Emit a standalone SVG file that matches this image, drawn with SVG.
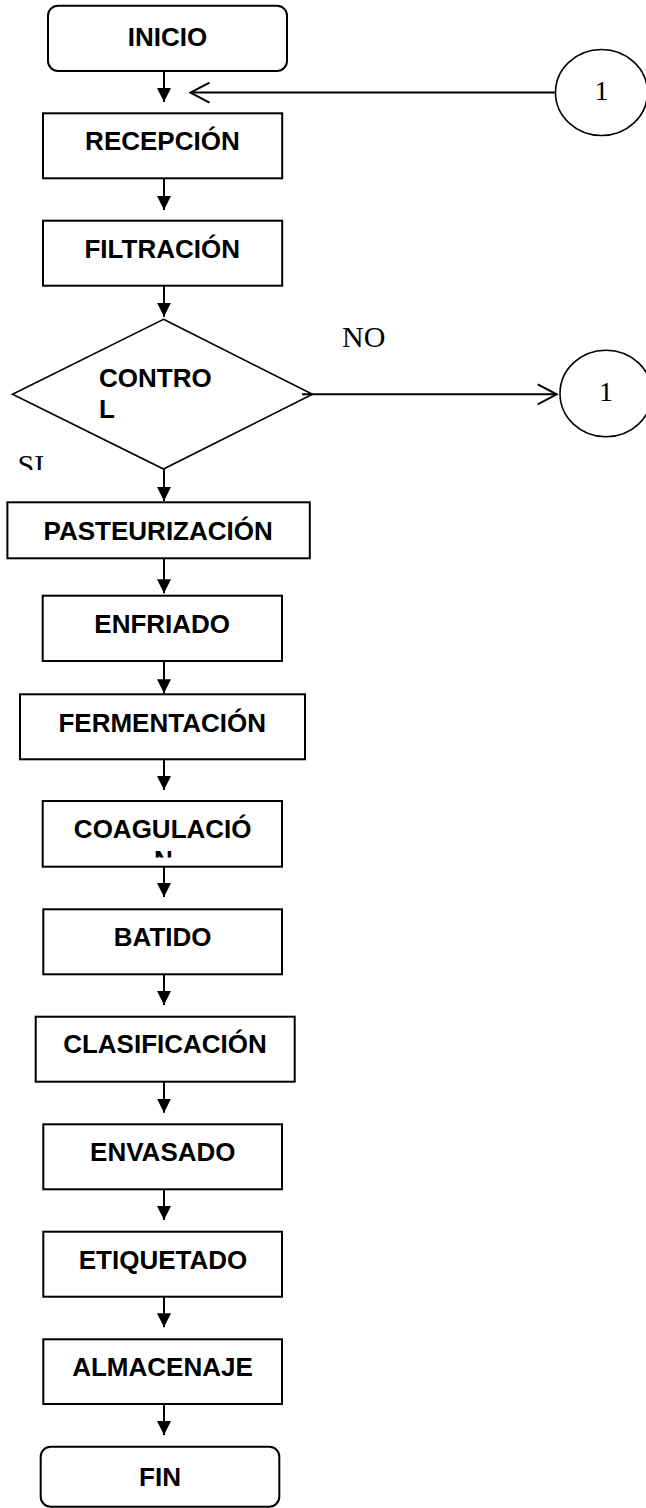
<svg xmlns="http://www.w3.org/2000/svg" width="646" height="1508" viewBox="0 0 646 1508">
<style>
.box{fill:#fff;stroke:#000;stroke-width:2}
.dia{fill:#fff;stroke:#000;stroke-width:1.6}
.circ{fill:#fff;stroke:#000;stroke-width:1.6}
.lbl{font-family:"Liberation Sans",Arial,sans-serif;font-weight:bold;font-size:26px;fill:#000}
.ser{font-family:"Liberation Serif","Times New Roman",serif;font-size:30px;fill:#000}
.num{font-family:"Liberation Serif","Times New Roman",serif;font-size:28px;fill:#000}
.flow{stroke:#000;stroke-width:2;fill:none;marker-end:url(#ah)}
.conn{stroke:#000;stroke-width:2;fill:none;marker-end:url(#oh)}
</style>
<defs>
<marker id="ah" markerUnits="userSpaceOnUse" markerWidth="14" markerHeight="14" refX="14" refY="7" orient="auto">
<path d="M0,0 L14,7 L0,14 z" fill="#000"/>
</marker>
<marker id="oh" markerUnits="userSpaceOnUse" markerWidth="22" markerHeight="24" refX="20" refY="11" orient="auto">
<path d="M1,1 L20,11 L1,21" fill="none" stroke="#000" stroke-width="2"/>
</marker>
<clipPath id="clipSI"><rect x="0" y="440" width="80" height="30"/></clipPath>
<clipPath id="clipN"><rect x="44" y="840" width="236" height="17.5"/></clipPath>
</defs>
<rect x="0" y="0" width="646" height="1508" fill="#fff"/>

<g id="inicio">
<rect class="box" x="48" y="5.7" width="239" height="65.3" rx="10"/>
<text class="lbl" x="167.5" y="45.7" text-anchor="middle">INICIO</text>
</g>
<g id="recepcion">
<rect class="box" x="43" y="113.3" width="239.2" height="65"/>
<text class="lbl" x="162.4" y="150" text-anchor="middle">RECEPCIÓN</text>
</g>
<g id="filtracion">
<rect class="box" x="43" y="220.7" width="239.2" height="65"/>
<text class="lbl" x="162.2" y="258.3" text-anchor="middle">FILTRACIÓN</text>
</g>
<g id="control">
<polygon class="dia" points="163.5,319.3 312.5,394.3 163.5,469 12.5,394.3"/>
<text class="lbl" x="99" y="386.7">CONTRO</text>
<text class="lbl" x="99" y="418.3">L</text>
</g>
<g id="conector1-entrada">
<ellipse class="circ" cx="601.5" cy="92.5" rx="46" ry="43"/>
<text class="num" x="601.5" y="100" text-anchor="middle">1</text>
</g>
<g id="conector1-salida">
<ellipse class="circ" cx="606" cy="393.5" rx="46" ry="43.3"/>
<text class="num" x="606" y="401" text-anchor="middle">1</text>
</g>
<g id="pasteurizacion">
<rect class="box" x="7.4" y="502.3" width="302.4" height="56"/>
<text class="lbl" x="158.2" y="540" text-anchor="middle">PASTEURIZACIÓN</text>
</g>
<g id="enfriado">
<rect class="box" x="42.7" y="595.7" width="239.3" height="65.3"/>
<text class="lbl" x="162.2" y="633.3" text-anchor="middle">ENFRIADO</text>
</g>
<g id="fermentacion">
<rect class="box" x="20" y="694.3" width="285" height="65"/>
<text class="lbl" x="162.2" y="731.7" text-anchor="middle">FERMENTACIÓN</text>
</g>
<g id="coagulacion">
<rect class="box" x="42.7" y="801" width="239.3" height="65.7"/>
<text class="lbl" x="162.7" y="837.7" text-anchor="middle">COAGULACIÓ</text>
<text class="lbl" x="163.5" y="868.7" text-anchor="middle" clip-path="url(#clipN)">N</text>
</g>
<g id="batido">
<rect class="box" x="43.3" y="909.3" width="238.7" height="65"/>
<text class="lbl" x="162.7" y="946" text-anchor="middle">BATIDO</text>
</g>
<g id="clasificacion">
<rect class="box" x="35.7" y="1016.7" width="259" height="65"/>
<text class="lbl" x="165" y="1053.3" text-anchor="middle">CLASIFICACIÓN</text>
</g>
<g id="envasado">
<rect class="box" x="43.3" y="1124.3" width="238.7" height="65"/>
<text class="lbl" x="162.8" y="1161" text-anchor="middle">ENVASADO</text>
</g>
<g id="etiquetado">
<rect class="box" x="43.3" y="1231.7" width="238.7" height="65"/>
<text class="lbl" x="163" y="1269.3" text-anchor="middle">ETIQUETADO</text>
</g>
<g id="almacenaje">
<rect class="box" x="43.3" y="1339.3" width="238.7" height="64.7"/>
<text class="lbl" x="162.5" y="1376" text-anchor="middle">ALMACENAJE</text>
</g>
<g id="fin">
<rect class="box" x="40.7" y="1446.7" width="238.6" height="60" rx="10"/>
<text class="lbl" x="160" y="1486" text-anchor="middle">FIN</text>
</g>

<g id="connectors">
<line class="flow" x1="164" y1="71" x2="164" y2="102"/>
<line class="conn" x1="555.5" y1="92.6" x2="190.5" y2="92.6"/>
<line class="flow" x1="164" y1="178.3" x2="164" y2="210"/>
<line class="flow" x1="164" y1="285.7" x2="164" y2="316.7"/>
<line class="conn" x1="302" y1="394.3" x2="556.7" y2="394.3"/>
<text class="ser" x="342" y="346.7">NO</text>
<text class="ser" x="17.5" y="475" clip-path="url(#clipSI)">SI</text>
<line class="flow" x1="164" y1="469" x2="164" y2="501"/>
<line class="flow" x1="164" y1="558.3" x2="164" y2="593.3"/>
<line class="flow" x1="164" y1="661" x2="164" y2="693.3"/>
<line class="flow" x1="164" y1="759.3" x2="164" y2="790"/>
<line class="flow" x1="164" y1="866.7" x2="164" y2="897"/>
<line class="flow" x1="164" y1="974.3" x2="164" y2="1005"/>
<line class="flow" x1="164" y1="1081.7" x2="164" y2="1112.7"/>
<line class="flow" x1="164" y1="1189.3" x2="164" y2="1220"/>
<line class="flow" x1="164" y1="1296.7" x2="164" y2="1327.3"/>
<line class="flow" x1="164" y1="1404" x2="164" y2="1435"/>
</g>
</svg>
